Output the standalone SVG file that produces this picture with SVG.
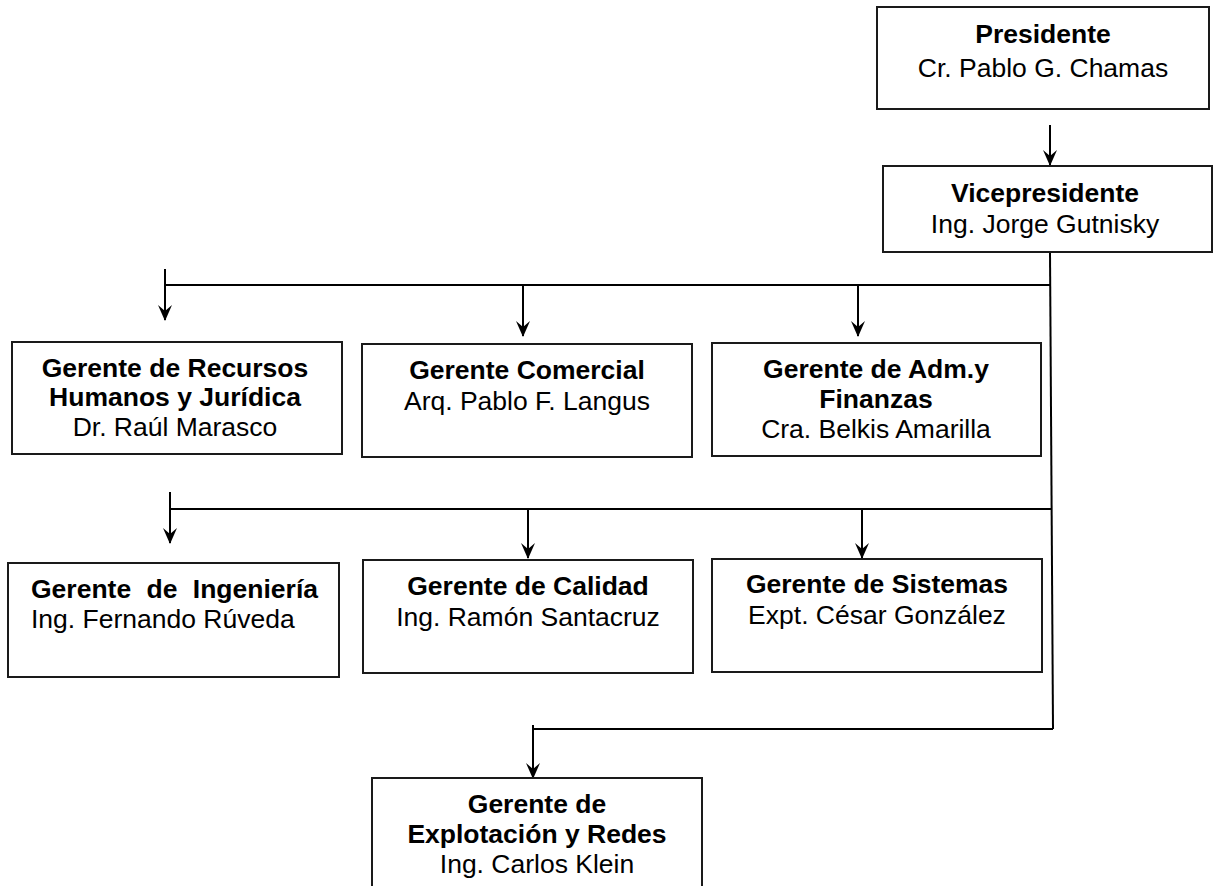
<svg xmlns="http://www.w3.org/2000/svg" width="1214" height="886" viewBox="0 0 1214 886">
  <style>
    .box { fill: #ffffff; stroke: #1a1a1a; stroke-width: 2; }
    .line { fill: none; stroke: #000000; stroke-width: 2; }
    text { font-family: "Liberation Sans", Arial, sans-serif; font-size: 26.5px; fill: #000000; }
    .c { text-anchor: middle; }
    .b { font-weight: bold; }
  </style>
  <defs>
    <marker id="arrow" viewBox="0 0 16 16" refX="15" refY="8" markerWidth="16" markerHeight="16" markerUnits="userSpaceOnUse" orient="auto">
      <path d="M0,1 L16,8 L0,15 L6,8 Z" fill="#000000"/>
    </marker>
  </defs>
  <rect width="1214" height="886" fill="#ffffff"/>

  <!-- connectors -->
  <g id="connectors">
    <line class="line" x1="1050" y1="125" x2="1050" y2="165" marker-end="url(#arrow)"/>
    <!-- trunk from the vice-presidency -->
    <line class="line" x1="1050" y1="252" x2="1053" y2="729"/>
    <!-- first level bus -->
    <line class="line" x1="165" y1="285" x2="1050" y2="285"/>
    <line class="line" x1="165" y1="269" x2="165" y2="320" marker-end="url(#arrow)"/>
    <line class="line" x1="523" y1="285" x2="523" y2="336" marker-end="url(#arrow)"/>
    <line class="line" x1="858" y1="285" x2="858" y2="336" marker-end="url(#arrow)"/>
    <!-- second level bus -->
    <line class="line" x1="170" y1="509" x2="1052" y2="509"/>
    <line class="line" x1="170" y1="492" x2="170" y2="543" marker-end="url(#arrow)"/>
    <line class="line" x1="528" y1="509" x2="528" y2="558" marker-end="url(#arrow)"/>
    <line class="line" x1="862" y1="509" x2="862" y2="558" marker-end="url(#arrow)"/>
    <!-- third level -->
    <line class="line" x1="533" y1="729" x2="1053" y2="729"/>
    <line class="line" x1="533" y1="725" x2="533" y2="778" marker-end="url(#arrow)"/>
  </g>

  <g id="presidente">
    <rect class="box" x="877" y="7" width="332" height="102"/>
    <text class="c b" x="1043" y="43">Presidente</text>
    <text class="c" x="1043" y="77">Cr. Pablo G. Chamas</text>
  </g>

  <g id="vicepresidente">
    <rect class="box" x="883" y="166" width="329" height="86"/>
    <text class="c b" x="1045" y="202">Vicepresidente</text>
    <text class="c" x="1045" y="233">Ing. Jorge Gutnisky</text>
  </g>

  <g id="rrhh">
    <rect class="box" x="12" y="342" width="330" height="112"/>
    <text class="c b" x="175" y="377">Gerente de Recursos</text>
    <text class="c b" x="175" y="406">Humanos y Jurídica</text>
    <text class="c" x="175" y="436">Dr. Raúl Marasco</text>
  </g>

  <g id="comercial">
    <rect class="box" x="362" y="344" width="330" height="113"/>
    <text class="c b" x="527" y="379">Gerente Comercial</text>
    <text class="c" x="527" y="410">Arq. Pablo F. Langus</text>
  </g>

  <g id="finanzas">
    <rect class="box" x="712" y="343" width="329" height="113"/>
    <text class="c b" x="876" y="378">Gerente de Adm.y</text>
    <text class="c b" x="876" y="408">Finanzas</text>
    <text class="c" x="876" y="438">Cra. Belkis Amarilla</text>
  </g>

  <g id="ingenieria">
    <rect class="box" x="8" y="563" width="331" height="114"/>
    <text class="b" x="31" y="598" word-spacing="8">Gerente de Ingeniería</text>
    <text x="31" y="628">Ing. Fernando Rúveda</text>
  </g>

  <g id="calidad">
    <rect class="box" x="363" y="560" width="330" height="113"/>
    <text class="c b" x="528" y="595">Gerente de Calidad</text>
    <text class="c" x="528" y="626">Ing. Ramón Santacruz</text>
  </g>

  <g id="sistemas">
    <rect class="box" x="712" y="559" width="330" height="113"/>
    <text class="c b" x="877" y="593">Gerente de Sistemas</text>
    <text class="c" x="877" y="624">Expt. César González</text>
  </g>

  <g id="explotacion">
    <rect class="box" x="372" y="778" width="330" height="130"/>
    <text class="c b" x="537" y="813">Gerente de</text>
    <text class="c b" x="537" y="843">Explotación y Redes</text>
    <text class="c" x="537" y="873">Ing. Carlos Klein</text>
  </g>
</svg>
